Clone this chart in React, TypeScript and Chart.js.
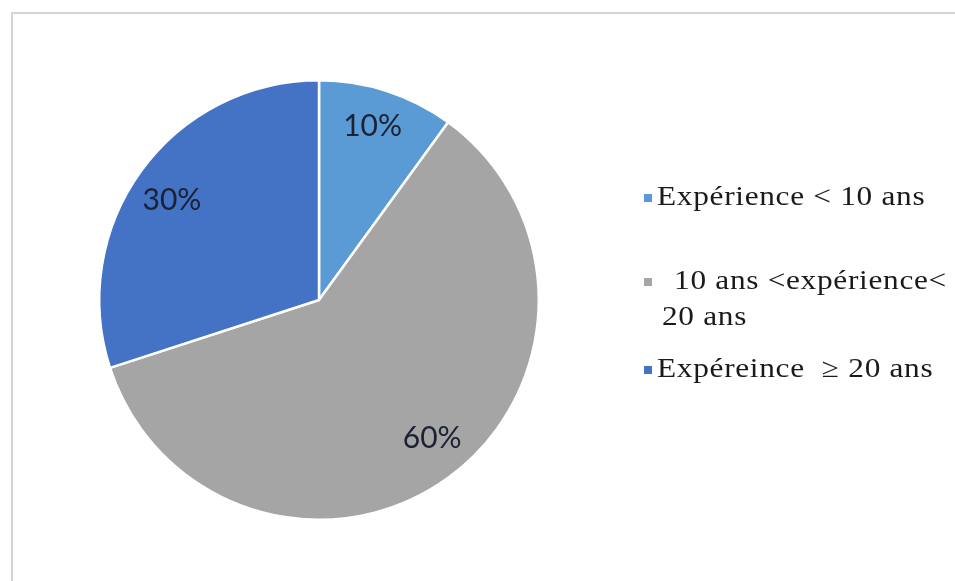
import React, { useEffect, useRef } from "react";
import { Chart, registerables } from "chart.js";

Chart.register(...registerables);

const categories = ["Expérience < 10 ans", "  10 ans <expérience< 20 ans", "Expéreince  \u2265 20 ans"];
const legendLines = [["Expérience < 10 ans"], ["  10 ans <expérience<", "20 ans"], ["Expéreince  \u2265 20 ans"]];
const values = [10, 60, 30];
const colors = ["#5B9BD5", "#A5A5A5", "#4472C4"];

const labelPlugin = {
  id: "sliceLabels",
  afterDatasetsDraw(chart: any) {
    const ctx = chart.ctx;
    const meta = chart.getDatasetMeta(0);
    const total = values.reduce((a, b) => a + b, 0);
    // per-slice placement tweaks (angle shift in degrees, radius fraction)
    const tweak = [
      { da: -0.9, f: 0.83 },
      { da: -3.5, f: 0.81 },
      { da: -1.7, f: 0.81 },
    ];
    ctx.save();
    ctx.font = "30px Lato, 'Liberation Sans', sans-serif";
    ctx.fillStyle = "#1a2233";
    ctx.textAlign = "center";
    ctx.textBaseline = "middle";
    meta.data.forEach((arc: any, i: number) => {
      const { x, y, startAngle, endAngle, outerRadius } = arc.getProps(["x", "y", "startAngle", "endAngle", "outerRadius"], true);
      const mid = (startAngle + endAngle) / 2 + (tweak[i].da * Math.PI) / 180;
      const r = outerRadius * tweak[i].f;
      const pct = Math.round((values[i] / total) * 100) + "%";
      ctx.fillText(pct, x + Math.cos(mid) * r, y + Math.sin(mid) * r + 1);
    });
    ctx.restore();
  },
};

const legendPlugin = {
  id: "customLegend",
  afterDraw(chart: any) {
    const ctx = chart.ctx;
    const rowY = [198, 282, 370];
    const sx = 1.16;
    ctx.save();
    legendLines.forEach((lines, i) => {
      ctx.fillStyle = colors[i];
      ctx.fillRect(644, rowY[i] - 4, 8, 8);
    });
    ctx.font = "27px 'Liberation Serif', 'Times New Roman', serif";
    (ctx as any).letterSpacing = "0.6px";
    ctx.textBaseline = "middle";
    ctx.fillStyle = "#1a1a1a";
    legendLines.forEach((lines, i) => {
      lines.forEach((t, j) => {
        const x0 = j === 0 ? 657 : 662;
        ctx.save();
        ctx.translate(x0, rowY[i] + j * 36);
        ctx.scale(sx, 1);
        ctx.fillText(t, 0, 0);
        ctx.restore();
      });
    });
    // outer frame
    (ctx as any).letterSpacing = "0px";
    ctx.strokeStyle = "#d4d4d4";
    ctx.lineWidth = 2;
    ctx.beginPath();
    ctx.moveTo(12, 600);
    ctx.lineTo(12, 13);
    ctx.lineTo(960, 13);
    ctx.stroke();
    ctx.restore();
  },
};

export default function App() {
  const ref = useRef<HTMLCanvasElement>(null);
  useEffect(() => {
    if (!ref.current) return;
    const chart = new Chart(ref.current, {
      type: "pie",
      data: {
        labels: categories,
        datasets: [
          {
            data: values,
            backgroundColor: colors,
            borderColor: "#ffffff",
            borderWidth: 2.5,
          },
        ],
      },
      options: {
        animation: false,
        responsive: false,
        layout: { padding: { left: 98, right: 415, top: 79, bottom: 60 } },
        plugins: { legend: { display: false }, tooltip: { enabled: false } },
      },
      plugins: [labelPlugin, legendPlugin],
    });
    return () => chart.destroy();
  }, []);
  return (
    <div style={{ position: "fixed", left: 0, top: 0, width: 955, height: 581, background: "#fff" }}>
      <canvas ref={ref} width={955} height={581} style={{ display: "block" }} />
    </div>
  );
}
